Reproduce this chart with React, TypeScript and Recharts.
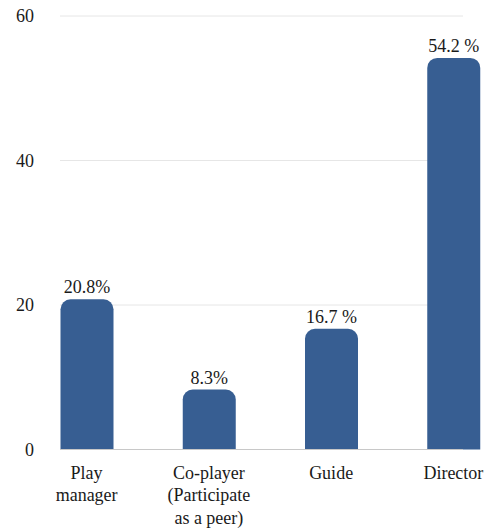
import { BarChart, Bar, XAxis, YAxis, CartesianGrid, LabelList } from 'recharts';

document.body.style.margin = '0';

const categories = ['Play manager', 'Co-player (Participate as a peer)', 'Guide', 'Director'];
const categoryLines = [['Play', 'manager'], ['Co-player', '(Participate', 'as a peer)'], ['Guide'], ['Director']];
const values = [20.8, 8.3, 16.7, 54.2];
const valueLabels = ['20.8%', '8.3%', '16.7 %', '54.2 %'];
const yTicks = [0, 20, 40, 60];

const FONT = '"Liberation Serif", "Times New Roman", serif';

const data = categories.map((name, i) => ({
  name,
  value: values[i],
  label: valueLabels[i]
}));

function CategoryTick({ x, y, index }: any) {
  const lines = categoryLines[index] || [];
  return (
    <text x={x} y={y} textAnchor="middle" style={{ fontFamily: FONT, fontSize: 18 }} fill="#1a1a1a">
      {lines.map((line, i) => (
        <tspan key={i} x={x} dy={i === 0 ? 21 : 22.5}>
          {line}
        </tspan>
      ))}
    </text>
  );
}

export default function App() {
  return (
    <div style={{ width: 492, height: 529, background: '#fff', fontFamily: FONT }}>
      <BarChart
        width={492}
        height={529}
        data={data}
        margin={{ top: 16, right: 29, bottom: 0, left: 0 }}
      >
        <CartesianGrid vertical={false} stroke="#e6e6e6" />
        <XAxis
          dataKey="name"
          tickLine={false}
          axisLine={{ stroke: '#c8c8c8' }}
          padding={{ left: -34.5, right: -51.5 }}
          tick={<CategoryTick />}
          interval={0}
          height={79.5}
        />
        <YAxis
          width={60}
          domain={[0, 60]}
          ticks={yTicks}
          tickLine={false}
          axisLine={false}
          tickMargin={20}
          tick={{ style: { fontFamily: FONT }, fontSize: 18, fill: '#1a1a1a' }}
        />
        <Bar dataKey="value" fill="#375e92" barSize={53} radius={[10, 10, 0, 0]} isAnimationActive={false}>
          <LabelList
            dataKey="label"
            position="top"
            offset={6}
            style={{ fontFamily: FONT, fontSize: 18, fill: '#1a1a1a' }}
          />
        </Bar>
      </BarChart>
    </div>
  );
}
